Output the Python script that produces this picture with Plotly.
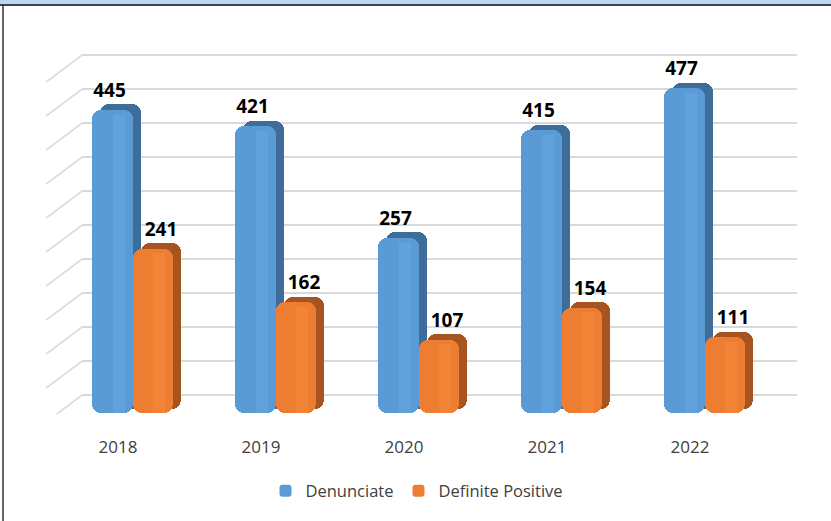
import plotly.graph_objects as go

# data
anios = ['2018', '2019', '2020', '2021', '2022']
denunciate = [445, 421, 257, 415, 477]
definite_positive = [241, 162, 107, 154, 111]

W, H = 831, 521
PX = 143.0          # pixels per category
TOP, BOT = 40, 414  # plot area in pixels
K = 0.68            # pixels per value unit
y_rng = [-10.3, -10.3 + (BOT - TOP) / K]
g_rng = [y_rng[0] - 17.6, y_rng[1] - 17.6]

idx = list(range(len(anios)))


def off(px):
    return px / PX


series = [
    dict(name='Denunciate', vals=denunciate, cx=-5.5, w=41, lab=-3,
         front='#5b9bd5', side='#3f6d99', hl='#68a8e2'),
    dict(name='Definite Positive', vals=definite_positive, cx=35, w=40, lab=8,
         front='#ed7d31', side='#a65420', hl='#f68a3c'),
]

fig = go.Figure()

# dummy trace so the grid subplot exists
fig.add_trace(go.Scatter(x=[0], y=[0], xaxis='x', yaxis='y', mode='markers',
                         marker=dict(opacity=0), showlegend=False, hoverinfo='skip'))

for s in series:
    xs = [i + off(s['cx']) for i in idx]
    # depth / side of the bar
    fig.add_trace(go.Bar(
        x=[x + off(8) for x in xs], y=[v + 3 for v in s['vals']], base=-3,
        width=off(s['w']), marker=dict(color=s['side'], cornerradius=9, line_width=0),
        xaxis='x2', yaxis='y2', showlegend=False, hoverinfo='skip'))
    # front face
    fig.add_trace(go.Bar(
        x=xs, y=[v + 1 for v in s['vals']], base=-9,
        width=off(s['w']), name=s['name'],
        marker=dict(color=s['front'], cornerradius=9, line_width=0),
        xaxis='x2', yaxis='y2', showlegend=True))
    # highlight strip
    fig.add_trace(go.Bar(
        x=[x + off(6) for x in xs], y=[v - 6 for v in s['vals']], base=-9,
        width=off(12), marker=dict(color=s['hl'], opacity=0.55, line_width=0),
        xaxis='x2', yaxis='y2', showlegend=False, hoverinfo='skip'))
    # value labels
    fig.add_trace(go.Scatter(
        x=[x + off(s['lab']) for x in xs], y=[v + 4 for v in s['vals']],
        text=[str(v) for v in s['vals']],
        mode='text', textposition='top center',
        textfont=dict(family='Open Sans', size=19, color='#000000', weight='bold'),
        xaxis='x2', yaxis='y2', showlegend=False, hoverinfo='skip'))

# side-wall diagonals of the 3D grid
shapes = []
for t in range(0, 501, 50):
    shapes.append(dict(type='line', xref='paper', yref='y',
                       x0=46 / W, x1=82 / W, y0=t - 27 / K, y1=t,
                       line=dict(color='#d9d9d9', width=1.5), layer='below'))

# frame: blue band on top, dark rule, left edge
py = lambda p: (BOT - p) / (BOT - TOP)
shapes += [
    dict(type='rect', xref='paper', yref='paper', x0=-0.01, x1=1.01, y0=py(4.5), y1=py(-2),
         fillcolor='#bdd7ee', line_width=0),
    dict(type='line', xref='paper', yref='paper', x0=-0.01, x1=1.01, y0=py(5), y1=py(5),
         line=dict(color='#3a4653', width=2)),
    dict(type='line', xref='paper', yref='paper', x0=3 / W, x1=3 / W, y0=py(5), y1=py(H + 2),
         line=dict(color='#333333', width=1.5)),
]

fig.update_layout(
    width=W, height=H,
    margin=dict(l=0, r=0, t=TOP, b=H - BOT),
    paper_bgcolor='white', plot_bgcolor='rgba(0,0,0,0)',
    barmode='overlay', bargap=0,
    font=dict(family='Open Sans', color='#404040'),
    showlegend=True,
    legend=dict(orientation='h', xref='container', yref='container',
                x=417 / W, xanchor='center', y=1 - 491 / H, yanchor='middle',
                itemwidth=30, font=dict(size=16.5, color='#404040'), traceorder='normal'),
    shapes=shapes,
    xaxis=dict(domain=[82 / W, 797 / W], range=[0, 1], visible=False, anchor='y'),
    yaxis=dict(domain=[0, 1], range=g_rng, tick0=0, dtick=50, showgrid=True,
               gridcolor='#d9d9d9', gridwidth=1.5, zeroline=False,
               showticklabels=False, ticks='', anchor='x'),
    xaxis2=dict(domain=[0, 1], range=[-118 / PX, -118 / PX + W / PX], anchor='y2',
                tickvals=idx, ticktext=anios, showgrid=False, zeroline=False,
                showline=False, ticks='outside', ticklen=18,
                tickcolor='rgba(0,0,0,0)', tickfont=dict(size=17, color='#404040')),
    yaxis2=dict(domain=[0, 1], range=y_rng, anchor='x2', visible=False),
)

fig.write_html('out.html', config={'displayModeBar': False},
               post_script="document.body.style.margin='0';")
